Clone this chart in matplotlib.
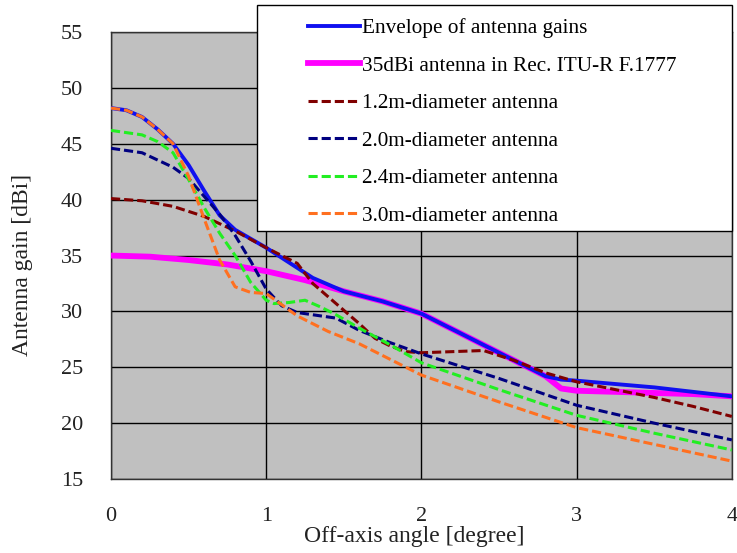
import matplotlib
matplotlib.use("Agg")
import matplotlib.pyplot as plt
from matplotlib.patches import Rectangle

plt.rcParams['font.family'] = ['Liberation Serif', 'DejaVu Serif']

# data
env_x = [0, 0.1, 0.2, 0.3, 0.4, 0.5, 0.6, 0.7, 0.8, 0.9, 1.0, 1.1, 1.2, 1.3,
         1.5, 1.75, 2.0, 2.2, 2.4, 2.6, 2.8, 2.9, 3.0, 3.25, 3.5, 3.75, 4.0]
env_y = [48.2, 48.0, 47.4, 46.3, 45.0, 43.1, 40.8, 38.6, 37.3, 36.5, 35.7, 34.8, 33.9, 33.0,
         31.8, 30.9, 29.8, 28.4, 27.0, 25.6, 24.2, 23.9, 23.8, 23.5, 23.2, 22.8, 22.4]

itu_x = [0, 0.25, 0.5, 0.75, 1.0, 1.25, 1.5, 1.75, 2.0, 2.2, 2.4, 2.6, 2.8, 2.9,
         3.0, 3.25, 3.5, 3.75, 4.0]
itu_y = [35.0, 34.9, 34.6, 34.2, 33.6, 32.8, 31.8, 30.9, 29.8, 28.4, 27.0, 25.6, 24.2, 23.1,
         22.9, 22.8, 22.7, 22.6, 22.4]

d12_x = [0, 0.2, 0.4, 0.6, 0.8, 1.0, 1.2, 1.3, 1.4, 1.5, 1.6, 1.7, 1.8, 1.9, 2.0,
         2.2, 2.4, 2.6, 2.8, 3.0, 3.25, 3.5, 3.75, 4.0]
d12_y = [40.1, 39.9, 39.4, 38.5, 37.2, 35.7, 34.3, 32.5, 31.3, 30.1, 28.9, 27.6, 26.9, 26.4, 26.3,
         26.4, 26.5, 25.6, 24.5, 23.7, 23.0, 22.3, 21.5, 20.6]

d20_x = [0, 0.2, 0.4, 0.5, 0.6, 0.7, 0.8, 0.9, 1.0, 1.1, 1.2, 1.3, 1.45, 1.6, 1.8,
         2.0, 2.5, 3.0, 3.5, 4.0]
d20_y = [44.6, 44.2, 42.9, 41.9, 40.3, 38.7, 36.8, 34.5, 32.0, 30.5, 29.9, 29.7, 29.4, 28.3, 27.2,
         26.2, 24.0, 21.6, 20.0, 18.5]

d24_x = [0, 0.2, 0.3, 0.4, 0.5, 0.6, 0.7, 0.8, 0.9, 1.0, 1.05, 1.15, 1.25, 1.35, 1.45,
         1.6, 1.8, 2.0, 2.5, 3.0, 3.5, 4.0]
d24_y = [46.2, 45.8, 45.2, 44.2, 41.8, 39.3, 37.0, 35.0, 32.6, 31.0, 30.7, 30.8, 31.0, 30.4, 29.7,
         28.5, 27.0, 25.4, 23.0, 20.7, 19.1, 17.6]

d30_x = [0, 0.1, 0.2, 0.3, 0.4, 0.5, 0.6, 0.7, 0.8, 0.9, 1.0, 1.1, 1.2, 1.4, 1.6,
         1.8, 2.0, 2.5, 3.0, 3.5, 4.0]
d30_y = [48.2, 48.0, 47.4, 46.3, 45.0, 42.1, 38.3, 34.6, 32.2, 31.7, 31.6, 30.6, 29.6, 28.2, 27.1,
         25.7, 24.3, 21.9, 19.6, 18.1, 16.6]

x_ticks = [0, 1, 2, 3, 4]
y_ticks = [15, 20, 25, 30, 35, 40, 45, 50, 55]

fig = plt.figure(figsize=(7.37, 5.53), dpi=100)
ax = fig.add_axes([0.1506, 0.1338, 0.8424, 0.8082])
ax.set_facecolor('#c0c0c0')

dash = (0, (3, 1.3))
ax.plot(env_x, env_y, color='#1010f0', lw=2.8, zorder=4,
        label='Envelope of antenna gains')
ax.plot(itu_x, itu_y, color='#ff00ff', lw=4.2, zorder=3,
        label='35dBi antenna in Rec. ITU-R F.1777')
ax.plot(d12_x, d12_y, color='#800000', lw=2.2, ls=dash, zorder=5,
        label='1.2m-diameter antenna')
ax.plot(d20_x, d20_y, color='#000080', lw=2.2, ls=dash, zorder=5,
        label='2.0m-diameter antenna')
ax.plot(d24_x, d24_y, color='#22ee22', lw=2.2, ls=dash, zorder=5,
        label='2.4m-diameter antenna')
ax.plot(d30_x, d30_y, color='#ff7020', lw=2.2, ls=dash, zorder=5,
        label='3.0m-diameter antenna')

ax.set_xlim(0, 4)
ax.set_ylim(15, 55)
ax.set_xticks(x_ticks)
ax.set_yticks(y_ticks)
ax.grid(True, color='black', lw=1.0)
ax.set_axisbelow(True)
ax.tick_params(length=0, labelsize=16, colors='#222222', pad=20)
ax.tick_params(axis='x', pad=20)
for s in ax.spines.values():
    s.set_color('#333333')
    s.set_linewidth(1.0)

fig.text(0.562, 0.029, 'Off-axis angle [degree]', ha='center', va='center',
         fontsize=17, color='#222222')
fig.text(0.031, 0.521, 'Antenna gain [dBi]', ha='center', va='center',
         rotation=90, fontsize=17, color='#222222')

# legend box sits on top of the plot area, partly above it
box = Rectangle((0.349, 0.582), 0.644, 0.409, transform=fig.transFigure,
                facecolor='white', edgecolor='black', lw=1.0, zorder=3)
fig.patches.append(box)
handles, labels = ax.get_legend_handles_labels()
fig.legend(handles, labels, loc='upper left', bbox_to_anchor=(0.406, 0.982),
           frameon=False, fontsize=15.3, handlelength=2.45, handletextpad=0.1,
           labelspacing=0.83, borderaxespad=0)

fig.savefig('out.png', dpi=100)
